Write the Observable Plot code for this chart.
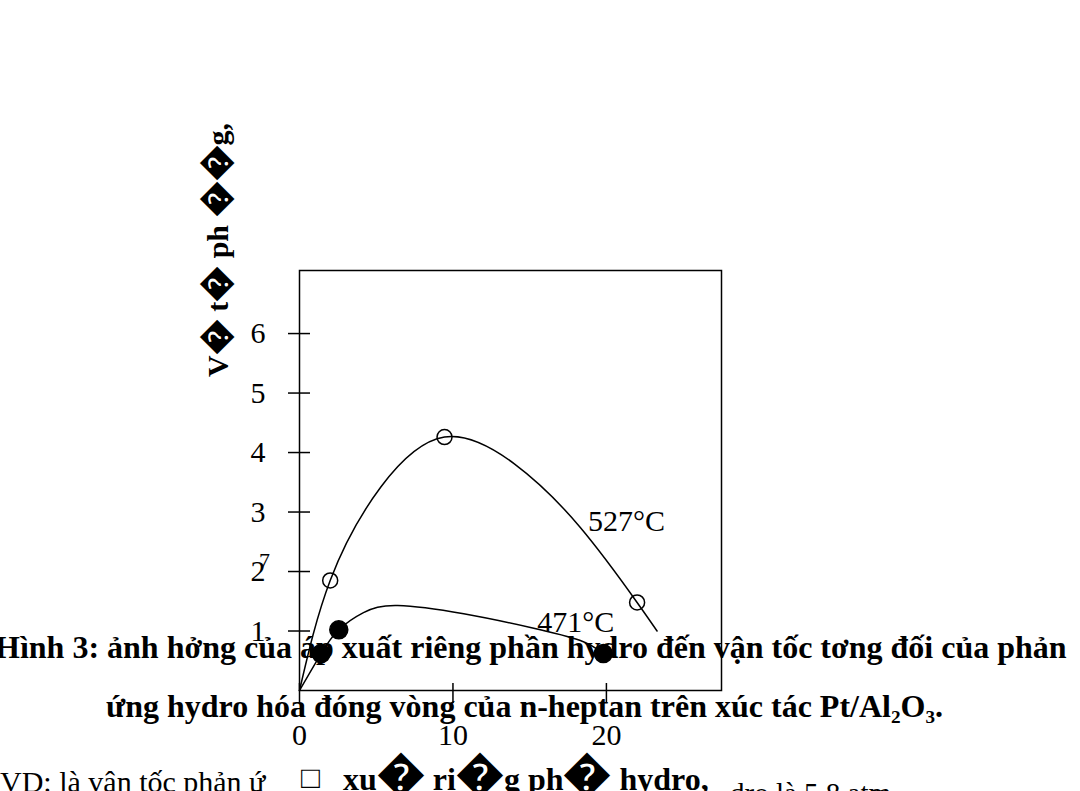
<!DOCTYPE html>
<html><head><meta charset="utf-8">
<script src="https://cdn.jsdelivr.net/npm/d3@7"></script>
<script src="https://cdn.jsdelivr.net/npm/@observablehq/plot@0.6"></script>
<style>
html,body{margin:0;padding:0;background:#fff;}
#wrap{position:relative;width:1080px;height:791px;overflow:hidden;font-family:"Liberation Serif","Times New Roman",serif;color:#000;}
#chart{position:absolute;left:0;top:0;}
.t{position:absolute;white-space:nowrap;line-height:1;}
.b{font-weight:bold;}
.d{font-size:1.35em;line-height:0;}
#ylab .d{font-size:1.2em;}
#note3 .d{font-size:1.5em;}
</style></head><body>
<div id="wrap">
<div id="chart"></div>
<div class="t b" id="ylab" style="left:203px;top:377px;font-size:30px;transform-origin:0 0;transform:rotate(-90deg);"></div>
<div class="t" id="stray" style="left:259px;top:550px;font-size:22px;"></div>
<div class="t b" id="cap1" style="left:-5px;top:631px;font-size:32px;"></div>
<div class="t b" id="cap2" style="left:106px;top:690px;font-size:32px;"></div>
<div class="t" id="note1" style="left:0px;top:767px;font-size:30px;"></div>
<div class="t" id="note2" style="left:301px;top:762px;font-size:31px;"></div>
<div class="t b" id="note3" style="left:343px;top:763px;font-size:32px;"></div>
<div class="t" id="note4" style="left:730px;top:779px;font-size:29px;"></div>
</div>
<script>
// ---- data ----
const xTicks = [0, 10, 20];
const yTicks = [1, 2, 3, 4, 5, 6];
const open527X = [2.0, 9.45, 22.0];
const open527Y = [1.85, 4.26, 1.48];
const fill471X = [1.41, 2.56, 19.8];
const fill471Y = [0.62, 1.02, 0.62];
const curve527X = [0, 2.0, 5.3, 9.45, 14.0, 18.3, 22.0, 23.3];
const curve527Y = [0, 1.85, 3.42, 4.26, 3.81, 2.74, 1.48, 1.0];
const curve471X = [0, 1.41, 2.56, 4.17, 6.4, 10.7, 15.05, 18.3, 19.8];
const curve471Y = [0, 0.62, 1.02, 1.31, 1.43, 1.29, 1.06, 0.84, 0.62];
const seriesLabels = ["527°C", "471°C"];
const labelX = [18.8, 15.5];
const labelY = [2.84, 1.14];

const yLabel = "V\uFFFD t\uFFFD ph \uFFFD\uFFFDg,";
const strayText = "7";
const caption1 = "Hình 3: ảnh hởng của áp xuất riêng phần hydro đến vận tốc tơng đối của phản";
const caption2 = "ứng hydro hóa đóng vòng của n-heptan trên xúc tác Pt/Al₂O₃.";
const note1 = "VD: là vận tốc phản ứ";
const note2 = "□";
const note3 = "xu\uFFFD ri\uFFFDg ph\uFFFD hydro,";
const note4 = "dro là 5,8 atm";

// ---- tables ----
const zip = (xs, ys) => xs.map((x, i) => ({x, y: ys[i]}));
const c527 = zip(curve527X, curve527Y);
const c471 = zip(curve471X, curve471Y);
const o527 = zip(open527X, open527Y);
const f471 = zip(fill471X, fill471Y);
const labs = seriesLabels.map((t, i) => ({t, x: labelX[i], y: labelY[i]}));

const chart = Plot.plot({
  width: 1080,
  height: 791,
  marginLeft: 299,
  marginRight: 359,
  marginTop: 270,
  marginBottom: 101,
  style: {fontFamily: "Liberation Serif, serif", fontSize: "30px", color: "black", background: "transparent"},
  x: {domain: [0, 27.5], label: null},
  y: {domain: [0, 7.06], label: null},
  marks: [
    Plot.frame({stroke: "black", strokeWidth: 1.5}),
    Plot.axisY(yTicks, {anchor: "left", tickSize: 22, dx: 11, tickPadding: 23, strokeWidth: 1.5, fontSize: 30, tickFormat: d => String(d), label: null}),
    Plot.axisX(xTicks, {anchor: "bottom", tickSize: 20, dy: -7, tickPadding: 20, strokeWidth: 1.5, fontSize: 30, tickFormat: d => String(d), label: null}),
    Plot.line(c527, {x: "x", y: "y", curve: "natural", stroke: "black", strokeWidth: 1.5}),
    Plot.line(c471, {x: "x", y: "y", curve: "natural", stroke: "black", strokeWidth: 1.5}),
    Plot.dot(o527, {x: "x", y: "y", r: 7.5, stroke: "black", strokeWidth: 1.5, fill: "none"}),
    Plot.dot(f471, {x: "x", y: "y", r: 9, fill: "black", stroke: "black"}),
    Plot.text(labs, {x: "x", y: "y", text: "t", textAnchor: "start", fontSize: 30, fill: "black"})
  ]
});
document.getElementById("chart").appendChild(chart);

// put text in, with the replacement glyphs a little larger as in the scan
function setText(id, s) {
  const el = document.getElementById(id);
  el.textContent = "";
  for (const part of s.split(/(\uFFFD)/)) {
    if (!part) continue;
    if (part === "\uFFFD") {
      const sp = document.createElement("span");
      sp.className = "d";
      sp.textContent = part;
      el.appendChild(sp);
    } else {
      el.appendChild(document.createTextNode(part));
    }
  }
}
setText("ylab", yLabel);
setText("stray", strayText);
setText("cap1", caption1);
setText("cap2", caption2);
setText("note1", note1);
setText("note2", note2);
setText("note3", note3);
setText("note4", note4);
</script>
</body></html>
